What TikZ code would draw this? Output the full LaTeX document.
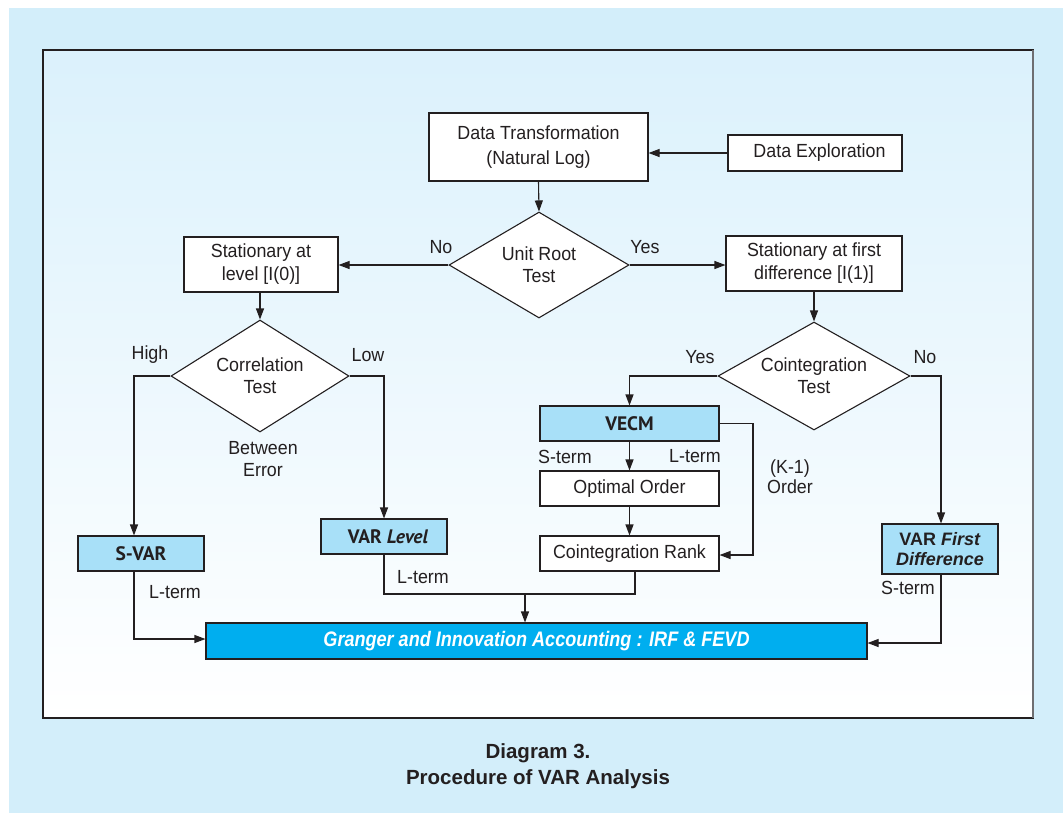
\documentclass[tikz,border=0pt]{standalone}
\usepackage{fontspec}
\setmainfont[FakeStretch=0.94]{Liberation Sans}
\newfontfamily\plainfont{Liberation Sans}
\newfontfamily\boxfont{PT Sans}
\newfontfamily\grfont[FakeStretch=0.86]{Liberation Sans}
\usetikzlibrary{shapes.geometric,arrows.meta}
\definecolor{bgblue}{RGB}{211,238,250}
\definecolor{frametop}{RGB}{219,241,252}
\definecolor{lightb}{RGB}{168,224,248}
\definecolor{granger}{RGB}{0,174,239}
\definecolor{linec}{RGB}{35,31,32}
\definecolor{framegray}{RGB}{110,110,113}
\tikzset{
  base/.style={draw=linec, line width=1.1pt, font=\fontsize{19}{23}\selectfont, text=linec, align=center, inner sep=0pt},
  wbox/.style={base, fill=white, rectangle},
  bbox/.style={base, fill=lightb, rectangle, font=\boxfont\bfseries\fontsize{19.5}{21}\selectfont},
  dia/.style={base, fill=white, diamond, shape aspect=1.7, font=\fontsize{19}{22}\selectfont},
  lbl/.style={font=\fontsize{19}{22}\selectfont, text=linec, align=center, inner sep=0pt},
  arr/.style={draw=linec, line width=1.1pt, -{Triangle[length=11pt,width=8pt]}},
  ln/.style={draw=linec, line width=1.1pt},
}
\begin{document}
\begin{tikzpicture}[x=1pt,y=-1pt]
\useasboundingbox (0,0) rectangle (1063,812);
\fill[white] (-5,-5) rectangle (1070,820);
\fill[bgblue] (9,8) rectangle (1070,820);
\shade[top color=frametop, bottom color=white] (43,50) rectangle (1033,718);
\draw[linec, line width=1.1pt] (43,50) rectangle (1033,718);
\draw[framegray, line width=2pt] (1033,50) -- (1033,718);

% nodes
\node[wbox, minimum width=219, minimum height=68] (dt) at (538.5,147) {Data Transformation\\[2pt](Natural Log)};
\node[wbox, minimum width=174, minimum height=36] (de) at (815,153) {\hspace*{9pt}Data Exploration};
\node[dia, minimum width=180, minimum height=106] (ur) at (539,265) {Unit Root\\Test};
\node[wbox, minimum width=154, minimum height=55] (sl) at (261,264.5) {Stationary at\\level [I(0)]};
\node[wbox, minimum width=176, minimum height=55] (sf) at (814,263.5) {Stationary at first\\difference [I(1)]};
\node[dia, minimum width=178, minimum height=112] (ct) at (260,376) {Correlation\\Test};
\node[dia, minimum width=192, minimum height=108] (co) at (814,376) {Cointegration\\Test};
\node[bbox, minimum width=126, minimum height=35] (svar) at (141,553.5) {S-VAR};
\node[bbox, minimum width=126, minimum height=35] (varl) at (384,536.5) {\hspace*{8pt}VAR \textit{Level}};
\node[bbox, minimum width=179, minimum height=35] (vecm) at (629.5,423.5) {VECM};
\node[wbox, minimum width=179, minimum height=35] (oo) at (629.5,488.5) {Optimal Order};
\node[wbox, minimum width=179, minimum height=35] (cr) at (629.5,553.5) {Cointegration Rank};
\node[bbox, minimum width=116, minimum height=50, font=\plainfont\bfseries\fontsize{18}{20}\selectfont] (vfd) at (940,549) {VAR \textit{First}\\\textit{Difference}};
\node[base, fill=granger, minimum width=661, minimum height=36, text=white, font=\grfont\bfseries\itshape\fontsize{21}{22}\selectfont] (gr) at (536.5,641) {Granger and Innovation Accounting : IRF \& FEVD};

% connectors
\draw[arr] (de.west) -- (de.west -| dt.east);
\draw[arr] (dt.south) -- (ur.north);
\draw[arr] (ur.west) -- (ur.west -| sl.east);
\draw[arr] (ur.east) -- (ur.east -| sf.west);
\draw[arr] (ct.north |- sl.south) -- (ct.north);
\draw[arr] (co.north |- sf.south) -- (co.north);
\coordinate (hl) at (134,376);
\draw[arr] (ct.west) -- (hl) -- (hl |- svar.north);
\draw[arr] (ct.east) -| (varl.north);
\draw[arr] (co.west) -| (vecm.north);
\coordinate (nr) at (941,376);
\draw[arr] (co.east) -- (nr) -- (nr |- vfd.north);
\draw[arr] (vecm.south) -- (oo.north);
\draw[arr] (oo.south) -- (cr.north);
\coordinate (kr) at (753,423.5);
\draw[arr] (vecm.east) -- (kr) |- ([yshift=-1.5pt]cr.east);
\coordinate (sb) at (134,639);
\draw[arr] (sb |- svar.south) -- (sb) -- (sb -| gr.west);
\coordinate (cj) at (635,594);
\coordinate (mj) at (525,594);
\draw[ln] (varl.south) |- (cj) -- (cj |- cr.south);
\draw[arr] (mj) -- (mj |- gr.north);
\coordinate (fb) at (941,643);
\draw[arr] (fb |- vfd.south) -- (fb) -- (fb -| gr.east);

% labels
\node[lbl] (no1) at (441,247) {No};
\node[lbl] (yes1) at (645,247) {Yes};
\node[lbl] (high) at (150,355) {High};
\node[lbl] (low) at (368,355) {Low};
\node[lbl] (yes2) at (700,357) {Yes};
\node[lbl] (no2) at (925,357) {No};
\node[lbl] (be) at (263,459) {Between\\Error};
\node[lbl] (st1) at (565,457) {S-term};
\node[lbl] (lt1) at (695,456) {L-term};
\node[lbl, font=\fontsize{19}{20}\selectfont] (k1) at (790,477) {(K-1)\\Order};
\node[lbl] (lt2) at (175,592) {L-term};
\node[lbl] (lt3) at (423,577) {L-term};
\node[lbl] (st2) at (908,588) {S-term};

% caption
\node[font=\plainfont\bfseries\fontsize{20.5}{26}\selectfont, text=linec, align=center] (cap) at (538,766) {Diagram 3.\\Procedure of VAR Analysis};
\end{tikzpicture}
\end{document}
